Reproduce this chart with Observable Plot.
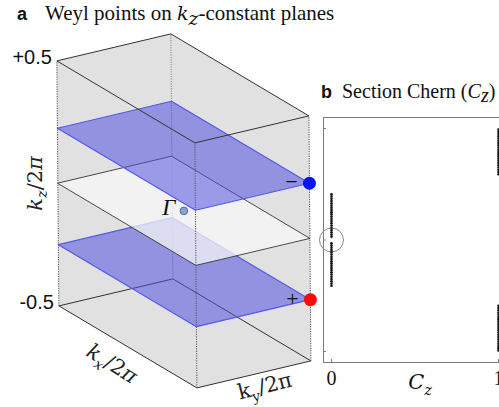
<!DOCTYPE html>
<html>
<head>
<meta charset="utf-8">
<script src="https://cdn.jsdelivr.net/npm/d3@7"></script>
<script src="https://cdn.jsdelivr.net/npm/@observablehq/plot@0.6"></script>
<style>
  html, body { margin: 0; padding: 0; background: #fff; overflow: hidden; }
  #fig { position: relative; width: 499px; height: 407px; overflow: hidden; background: #fff; }
  #fig svg { position: absolute; top: 0; }
  .tag { position: absolute; font-family: "Liberation Sans", Arial, sans-serif; font-weight: bold; font-size: 18px; line-height: 18px; color: #111; }
  .title { position: absolute; font-family: "Liberation Serif", "Times New Roman", serif; font-size: 21px; line-height: 21px; white-space: nowrap; color: #111; }
  .title i { font-family: "DejaVu Serif", serif; font-size: 19px; }
  .title.narrow { font-size: 20px; line-height: 21px; }
  .title i.tight { font-family: "Liberation Serif", serif; font-size: 20px; }
  .title sub { font-size: 0.72em; vertical-align: -0.3em; line-height: 0; }
</style>
</head>
<body>
<div id="fig">
  <div class="tag" style="left:17px;top:5px">a</div>
  <div class="title" style="left:45px;top:3px">Weyl points on <i>k</i><sub><i>z</i></sub>-constant planes</div>
  <div class="tag" style="left:321px;top:83px">b</div>
  <div class="title narrow" style="left:342px;top:81px">Section Chern (<i class="tight">C</i><sub><i class="tight">z</i></sub>)</div>
</div>
<script>
// ---------- data ----------
// Brillouin-zone bounds in units of 2π (kx, ky, kz all span the same range)
const bzBounds = [-0.5, 0.5];
const kzTicks = [0.5, -0.5];
const kzTickLabels = ["+0.5", "-0.5"];
// kz-constant planes holding the Weyl points, with their chirality
const weylKz = [0.225, -0.25];
const weylSign = ["−", "+"];
const weylFill = ["#0a14ee", "#ff0808"];
// the kz = 0 plane through Γ
const gammaKz = 0;
const axisNames = ["k_x/2π", "k_y/2π", "k_z/2π"];

// section Chern number C_z sampled along kz
const kzChern0 = [0.205, 0.195, 0.185, 0.175, 0.165, 0.155, 0.145, 0.135, 0.125, 0.115,
                  0.105, 0.095, 0.085, 0.075, 0.065, 0.055, 0.045, 0.035, 0.025, 0.015,
                  -0.015, -0.025, -0.035, -0.045, -0.055, -0.065, -0.075, -0.085, -0.095, -0.105,
                  -0.115, -0.125, -0.135, -0.145, -0.155, -0.165, -0.175, -0.185, -0.195, -0.205];
const kzChern1 = [0.495, 0.485, 0.475, 0.465, 0.455, 0.445, 0.435, 0.425, 0.415, 0.405,
                  0.395, 0.385, 0.375, 0.365, 0.355, 0.345, 0.335, 0.325, 0.315, 0.305, 0.295,
                  -0.295, -0.305, -0.315, -0.325, -0.335, -0.345, -0.355, -0.365, -0.375, -0.385,
                  -0.395, -0.405, -0.415, -0.425, -0.435, -0.445, -0.455, -0.465, -0.475, -0.485, -0.495];
const czTicks = [0, 1];
const czFrameKz = [-0.5, 0, 0.5];
const czLabel = "C_z";

// ---------- oblique view of the zone ----------
const kxDir = [1.38, -0.82], kyDir = [1.14, 0.27], kzDir = [-0.02, 2.45];
function project([kx, ky, kz]) {
  return [kx * kxDir[0] + ky * kyDir[0] + kz * kzDir[0],
          kx * kxDir[1] + ky * kyDir[1] + kz * kzDir[1]];
}
const [lo, hi] = bzBounds;
// corners of the face where coordinate `fixed` equals `value`
function face(fixed, value) {
  return [[lo, lo], [hi, lo], [hi, hi], [lo, hi]].map(([a, b]) => {
    const p = [a, b]; p.splice(fixed, 0, value); return p;
  });
}
const polyRows = (name, corners) => corners.map(c => { const [sx, sy] = project(c); return {name, sx, sy}; });
const edgeRows = pairs => pairs.map(([a, b]) => {
  const [x1, y1] = project(a), [x2, y2] = project(b); return {x1, y1, x2, y2};
});
const P = (kx, ky, kz) => [kx, ky, kz];

const backFaces = [...polyRows("bottom", face(2, lo)), ...polyRows("left", face(0, lo)), ...polyRows("right", face(1, hi))];
const frontFaces = [...polyRows("top", face(2, hi)), ...polyRows("fl", face(1, lo)), ...polyRows("fr", face(0, hi))];
const upperPlane = polyRows("upper", face(2, weylKz[0]));
const lowerPlane = polyRows("lower", face(2, weylKz[1]));
const gammaPlane = polyRows("gamma", face(2, gammaKz));

const backEdges = edgeRows([[P(lo, lo, lo), P(lo, hi, lo)], [P(lo, hi, lo), P(hi, hi, lo)]]);
const backVertical = edgeRows([[P(lo, hi, lo), P(lo, hi, hi)]]);
const frontEdges = edgeRows([
  [P(lo, lo, hi), P(hi, lo, hi)], [P(hi, lo, hi), P(hi, hi, hi)],
  [P(hi, hi, hi), P(lo, hi, hi)], [P(lo, hi, hi), P(lo, lo, hi)],
  [P(lo, lo, lo), P(hi, lo, lo)], [P(hi, lo, lo), P(hi, hi, lo)]
]);
const frontVerticals = edgeRows([
  [P(lo, lo, lo), P(lo, lo, hi)], [P(hi, lo, lo), P(hi, lo, hi)], [P(hi, hi, lo), P(hi, hi, hi)]
]);

const weylRows = weylKz.map((kz, i) => {
  const [sx, sy] = project([hi, hi, kz]); return {sx, sy, sign: weylSign[i], fill: weylFill[i]};
});
const gammaRow = (() => { const [sx, sy] = project([0, 0, gammaKz]); return [{sx, sy}]; })();
const tickRows = kzTicks.map((kz, i) => { const [sx, sy] = project([lo, lo, kz]); return {sx, sy, label: kzTickLabels[i]}; });
const axisAnchor = [P(0, lo, lo), P(hi, 0, lo), P(lo, lo, 0)].map(project);

const serif = "Liberation Serif, Times New Roman, serif";
const mathFont = "DejaVu Serif, serif";

const panelA = Plot.plot({
  width: 330, height: 407,
  marginTop: 0, marginRight: 0, marginBottom: 0, marginLeft: 0,
  x: {domain: [-1.834, 1.466], axis: null},
  y: {domain: [-1.966, 2.104], axis: null},
  style: {background: "none", overflow: "visible"},
  marks: [
    Plot.line(backFaces, {x: "sx", y: "sy", z: "name", curve: "linear-closed", fill: "#e9e9e9", stroke: "#e9e9e9", strokeWidth: 0.5}),
    Plot.link(backEdges, {x1: "x1", y1: "y1", x2: "x2", y2: "y2", stroke: "#333", strokeWidth: 1}),
    Plot.link(backVertical, {x1: "x1", y1: "y1", x2: "x2", y2: "y2", stroke: "#888", strokeWidth: 1, strokeDasharray: "1.2 1.2"}),
    Plot.line(lowerPlane, {x: "sx", y: "sy", curve: "linear-closed", fill: "#5454ea", fillOpacity: 0.55, stroke: "#5a5af2", strokeWidth: 1.2}),
    Plot.line(gammaPlane, {x: "sx", y: "sy", curve: "linear-closed", fill: "#ffffff", fillOpacity: 0.75, stroke: "#222", strokeWidth: 0.8}),
    Plot.dot(gammaRow, {x: "sx", y: "sy", r: 3.8, fill: "#8eaad8", stroke: "#50709e", strokeWidth: 1}),
    Plot.text(gammaRow, {x: "sx", y: "sy", text: () => "Γ", dx: -15, dy: -3, fontSize: 23, fontStyle: "italic", fontFamily: serif, fill: "#111"}),
    Plot.line(upperPlane, {x: "sx", y: "sy", curve: "linear-closed", fill: "#5454ea", fillOpacity: 0.55, stroke: "#5a5af2", strokeWidth: 1.2}),
    Plot.line(frontFaces, {x: "sx", y: "sy", z: "name", curve: "linear-closed", fill: "#000", fillOpacity: 0.03, stroke: "none"}),
    Plot.link(frontEdges, {x1: "x1", y1: "y1", x2: "x2", y2: "y2", stroke: "#333", strokeWidth: 1}),
    Plot.link(frontVerticals, {x1: "x1", y1: "y1", x2: "x2", y2: "y2", stroke: "#555", strokeWidth: 1, strokeDasharray: "1.2 1.2"}),
    Plot.dot(weylRows, {x: "sx", y: "sy", r: 6.5, fill: "fill", stroke: "none"}),
    Plot.text(weylRows, {x: "sx", y: "sy", text: "sign", dx: -18, dy: -1, fontSize: 22, fontFamily: serif, fill: "#111"}),
    Plot.text(tickRows, {x: "sx", y: "sy", text: "label", textAnchor: "end", dx: -5, dy: -3, fontSize: 20, fontFamily: "Liberation Sans, Arial, sans-serif", fill: "#111"}),
    Plot.text([axisNames[0]], {x: () => axisAnchor[0][0], y: () => axisAnchor[0][1], text: d => d, dx: -16, dy: 17, rotate: 32, fontSize: 21, fontFamily: mathFont, fill: "#222"}),
    Plot.text([axisNames[1]], {x: () => axisAnchor[1][0], y: () => axisAnchor[1][1], text: d => d, dx: 11, dy: 12, rotate: -14, fontSize: 21, fontFamily: mathFont, fill: "#222"}),
    Plot.text([axisNames[2]], {x: () => axisAnchor[2][0], y: () => axisAnchor[2][1], text: d => d, dx: -23, dy: 0, rotate: -90, fontSize: 21, fontFamily: mathFont, fill: "#222"})
  ]
});

const chernRows = [
  ...kzChern0.map(kz => ({C: 0, kz})),
  ...kzChern1.map(kz => ({C: 1, kz}))
];

const panelB = Plot.plot({
  width: 240, height: 407,
  marginTop: 117, marginRight: 34, marginBottom: 45, marginLeft: 23,
  x: {domain: [0, 1], insetLeft: 8, insetRight: 8, axis: null},
  y: {domain: [-0.5, 0.5], insetTop: 11, insetBottom: 11, axis: null},
  style: {background: "none", overflow: "visible"},
  marks: [
    Plot.frame({stroke: "#7a7a7a", strokeWidth: 1}),
    Plot.axisY({ticks: czFrameKz, tickSize: -3, tickFormat: () => "", label: null, stroke: "#7a7a7a"}),
    Plot.axisX({ticks: czTicks, tickSize: -3, tickFormat: () => "", label: null, stroke: "#7a7a7a"}),
    Plot.dot([{C: 0, kz: 0}], {x: "C", y: "kz", r: 12, stroke: "#8a8a8a", fill: "none", strokeWidth: 1}),
    Plot.dot(chernRows, {x: "C", y: "kz", r: 1.3, fill: "#111", stroke: "none"}),
    Plot.text(czTicks, {x: d => d, frameAnchor: "bottom", lineAnchor: "middle", dy: 16, text: d => String(d), fontSize: 20, fontFamily: serif, fill: "#111"}),
    Plot.text([czLabel], {frameAnchor: "bottom", lineAnchor: "middle", dx: 5, dy: 20, text: d => d, fontSize: 21, fontFamily: mathFont, fill: "#111"})
  ]
});

// set subscripts and italic letters in the math labels
const mathItalic = {"k_x/2π": true, "k_z/2π": true, "k_y/2π": false, "C_z": true};
function typeset(svg) {
  d3.select(svg).selectAll("text").each(function () {
    const s = this.textContent;
    if (!(s in mathItalic)) return;
    const italic = mathItalic[s];
    const size = parseFloat(this.getAttribute("font-size") || getComputedStyle(this).fontSize) || 20;
    const shift = size * 0.28;
    this.textContent = "";
    let lowered = false;
    for (const tok of s.match(/_.|[^_]/g)) {
      const sub = tok[0] === "_";
      const ch = sub ? tok[1] : tok;
      const t = document.createElementNS("http://www.w3.org/2000/svg", "tspan");
      t.textContent = ch;
      t.setAttribute("font-style", italic && /[A-Za-zπ]/.test(ch) ? "italic" : "normal");
      if (sub) {
        t.setAttribute("font-size", size * 0.72);
        if (!lowered) { t.setAttribute("dy", shift); lowered = true; }
      } else if (lowered) {
        t.setAttribute("dy", -shift); lowered = false;
      }
      this.appendChild(t);
    }
  });
}
typeset(panelA);
typeset(panelB);

panelA.style.left = "0px";
panelB.style.left = "300px";
const fig = document.getElementById("fig");
fig.insertBefore(panelA, fig.firstChild);
fig.insertBefore(panelB, fig.firstChild.nextSibling);
</script>
</body>
</html>
